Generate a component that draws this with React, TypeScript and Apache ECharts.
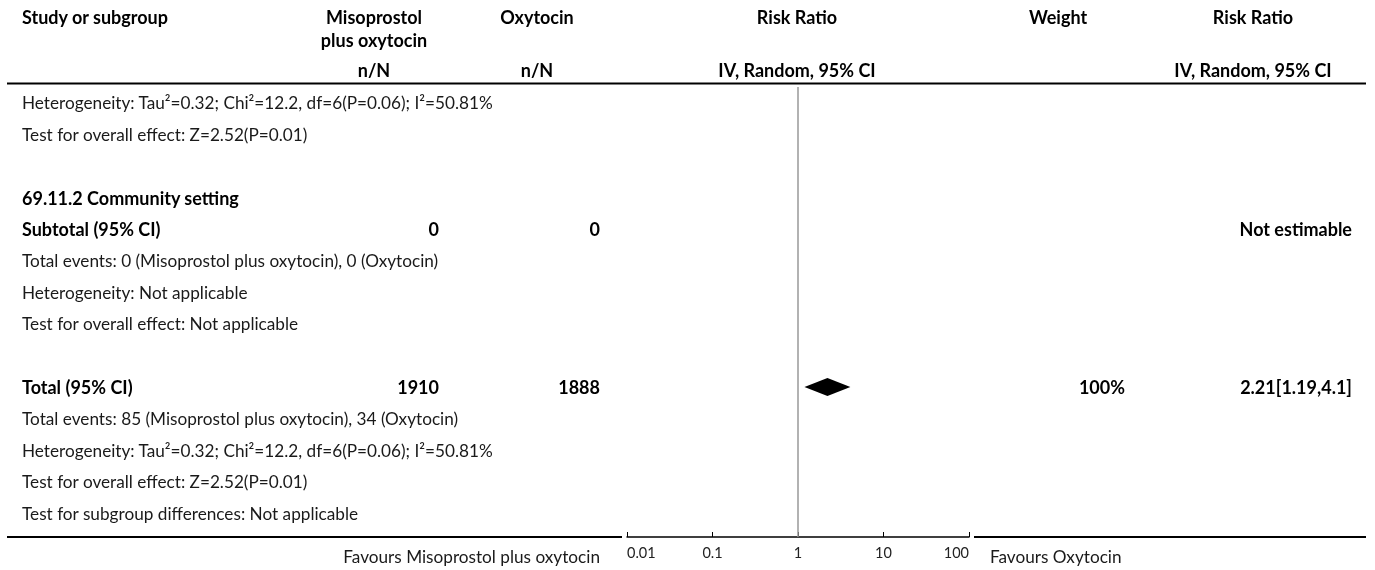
import React, { useEffect, useRef } from "react";
import * as echarts from "echarts";

// ---- data ----
const rowLabels: string[] = [
  "Heterogeneity: Tau\u00b2=0.32; Chi\u00b2=12.2, df=6(P=0.06); I\u00b2=50.81%",
  "Test for overall effect: Z=2.52(P=0.01)",
  "",
  "69.11.2 Community setting",
  "Subtotal (95% CI)",
  "Total events: 0 (Misoprostol plus oxytocin), 0 (Oxytocin)",
  "Heterogeneity: Not applicable",
  "Test for overall effect: Not applicable",
  "",
  "Total (95% CI)",
  "Total events: 85 (Misoprostol plus oxytocin), 34 (Oxytocin)",
  "Heterogeneity: Tau\u00b2=0.32; Chi\u00b2=12.2, df=6(P=0.06); I\u00b2=50.81%",
  "Test for overall effect: Z=2.52(P=0.01)",
  "Test for subgroup differences: Not applicable",
];
const boldRows: number[] = [3, 4, 9];
const expTotals: string[] = ["", "", "", "", "0", "", "", "", "", "1910", "", "", "", ""];
const ctrlTotals: string[] = ["", "", "", "", "0", "", "", "", "", "1888", "", "", "", ""];
const weights: string[] = ["", "", "", "", "", "", "", "", "", "100%", "", "", "", ""];
const rrTexts: string[] = ["", "", "", "", "Not estimable", "", "", "", "", "2.21[1.19,4.1]", "", "", "", ""];
// pooled diamond: [estimate, lower, upper, row]
const pooled: number[][] = [[2.21, 1.19, 4.1, 9]];
const tickValues: number[] = [0.01, 0.1, 1, 10, 100];
const leftFavours = "Favours Misoprostol plus oxytocin";
const rightFavours = "Favours Oxytocin";

const FONT = "'Source Sans Pro', Lato, 'Noto Sans', sans-serif";
const NORMAL = 17.2;
const BOLD = 18;

export default function App() {
  const ref = useRef<HTMLDivElement>(null);
  useEffect(() => {
    if (!ref.current) return;
    const chart = echarts.init(ref.current, null, { renderer: "svg" });
    chart.setOption({
      animation: false,
      textStyle: { fontFamily: FONT },
      grid: { left: 627, right: 406, top: 87, bottom: 33 },
      xAxis: {
        type: "log",
        logBase: 10,
        min: 0.01,
        max: 100,
        position: "bottom",
        splitLine: { show: false },
        axisLine: { show: true, onZero: false, lineStyle: { color: "#000", width: 1.5 } },
        axisTick: { show: true, inside: true, length: 5, lineStyle: { color: "#000", width: 1 } },
        axisLabel: {
          fontSize: 14.5,
          color: "#222",
          margin: 8,
          fontFamily: FONT,
          alignMinLabel: "left",
          alignMaxLabel: "right",
          formatter: (v: number) => {
            const t = tickValues.find((x) => Math.abs(Math.log10(x) - Math.log10(v)) < 1e-6);
            return t === undefined ? "" : String(t);
          },
        },
      },
      yAxis: { type: "value", inverse: true, min: -0.5, max: 13.75, show: false },
      series: [
        {
          type: "custom",
          data: pooled,
          renderItem: (params: any, api: any) => {
            const row = api.value(3);
            const c = api.coord([api.value(0), row]);
            const l = api.coord([api.value(1), row]);
            const r = api.coord([api.value(2), row]);
            const h = 9;
            return {
              type: "polygon",
              shape: { points: [[l[0], c[1]], [c[0], c[1] - h], [r[0], c[1]], [c[0], c[1] + h]] },
              style: { fill: "#000" },
            };
          },
          markLine: {
            silent: true,
            symbol: ["none", "none"],
            label: { show: false },
            lineStyle: { color: "#999", width: 1.5, type: "solid" },
            data: [{ xAxis: 1 }],
          },
          z: 3,
        },
      ],
    });

    const yp = (r: number) => chart.convertToPixel({ yAxisIndex: 0 }, r) as number;
    const els: any[] = [];
    const txt = (x: number, y: number, text: string, opts: any = {}) => {
      els.push({
        type: "text",
        x,
        y,
        style: {
          text,
          fontFamily: FONT,
          fontSize: opts.size ?? (opts.bold ? BOLD : NORMAL),
          fontWeight: opts.bold ? "bold" : "normal",
          fill: opts.bold ? "#000" : "#1a1a1a",
          align: opts.align ?? "left",
          verticalAlign: "middle",
        },
      });
    };
    // headers
    txt(22, 17, "Study or subgroup", { bold: true });
    txt(374, 17, "Misoprostol", { bold: true, align: "center" });
    txt(374, 40, "plus oxytocin", { bold: true, align: "center" });
    txt(374, 70, "n/N", { bold: true, align: "center" });
    txt(537, 17, "Oxytocin", { bold: true, align: "center" });
    txt(537, 70, "n/N", { bold: true, align: "center" });
    txt(797, 17, "Risk Ratio", { bold: true, align: "center" });
    txt(797, 70, "IV, Random, 95% CI", { bold: true, align: "center" });
    txt(1058, 17, "Weight", { bold: true, align: "center" });
    txt(1253, 17, "Risk Ratio", { bold: true, align: "center" });
    txt(1253, 70, "IV, Random, 95% CI", { bold: true, align: "center" });
    // header rule and bottom rule
    els.push({ type: "line", shape: { x1: 7, y1: 83.5, x2: 1366, y2: 83.5 }, style: { stroke: "#000", lineWidth: 2 } });
    els.push({ type: "line", shape: { x1: 7, y1: 537, x2: 622, y2: 537 }, style: { stroke: "#000", lineWidth: 2 } });
    els.push({ type: "line", shape: { x1: 974, y1: 537, x2: 1366, y2: 537 }, style: { stroke: "#000", lineWidth: 2 } });
    // rows
    rowLabels.forEach((lab, i) => {
      const y = yp(i);
      const bold = boldRows.includes(i);
      if (lab) txt(22, y, lab, { bold });
      if (expTotals[i]) txt(439, y, expTotals[i], { bold: true, align: "right" });
      if (ctrlTotals[i]) txt(600, y, ctrlTotals[i], { bold: true, align: "right" });
      if (weights[i]) txt(1125, y, weights[i], { bold: true, align: "right" });
      if (rrTexts[i]) txt(1352, y, rrTexts[i], { bold: true, align: "right" });
    });
    // favours labels
    txt(600, 556, leftFavours, { size: NORMAL, align: "right" });
    txt(990, 556, rightFavours, { size: NORMAL, align: "left" });
    chart.setOption({ graphic: els });
    return () => chart.dispose();
  }, []);
  return <div ref={ref} style={{ position: "fixed", left: 0, top: 0, width: 1375, height: 570 }} />;
}
